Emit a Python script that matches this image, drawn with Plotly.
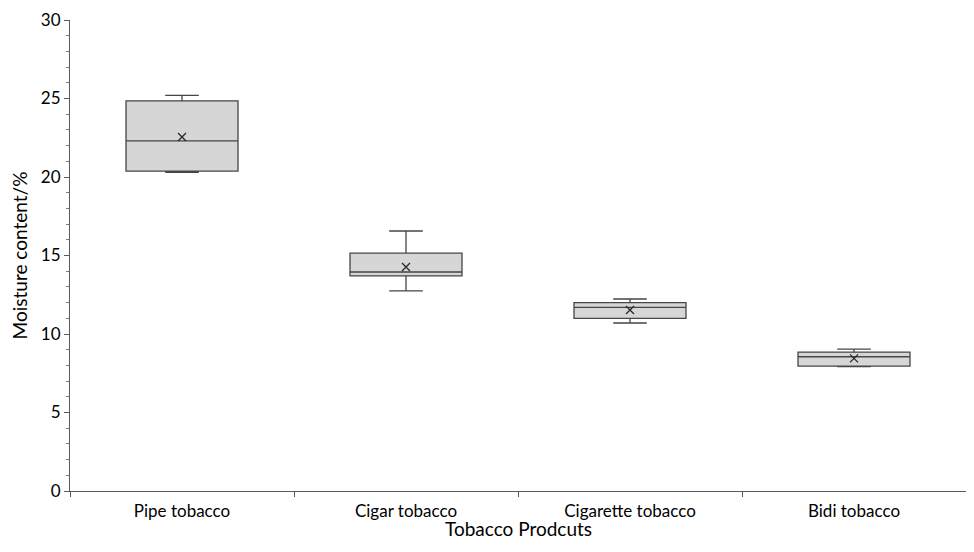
import plotly.graph_objects as go

categories = ["Pipe tobacco", "Cigar tobacco", "Cigarette tobacco", "Bidi tobacco"]
lower_whisker = [20.3, 12.75, 10.7, 7.92]
q1 = [20.38, 13.7, 11.0, 7.96]
median = [22.3, 13.95, 11.7, 8.55]
q3 = [24.85, 15.15, 12.0, 8.85]
upper_whisker = [25.2, 16.56, 12.23, 9.04]
mean = [22.55, 14.27, 11.53, 8.45]

font = "Lato, 'Open Sans', sans-serif"

fig = go.Figure()
fig.add_trace(go.Box(
    x=categories,
    q1=q1, median=median, q3=q3,
    lowerfence=lower_whisker, upperfence=upper_whisker,
    fillcolor="rgb(214,214,214)",
    line=dict(color="rgb(70,70,70)", width=1.3),
    whiskerwidth=0.3,
    width=0.5,
    boxpoints=False,
    hoverinfo="skip",
    showlegend=False,
))
fig.add_trace(go.Scatter(
    x=categories, y=mean, mode="markers",
    marker=dict(symbol="x-thin-open", size=8, color="rgb(40,40,40)",
                line=dict(color="rgb(40,40,40)", width=1.3)),
    showlegend=False, hoverinfo="skip",
))

fig.update_layout(
    width=958, height=536,
    margin=dict(l=62, r=0, t=12, b=53, autoexpand=False),
    plot_bgcolor="white", paper_bgcolor="white",
    font=dict(family=font, size=17, color="black"),
    annotations=[dict(
        text="Tobacco Prodcuts", xref="paper", yref="paper",
        x=0.5, y=-0.079, xanchor="center", yanchor="middle",
        showarrow=False, font=dict(size=19),
    )],
)
fig.update_xaxes(
    type="category", range=[-0.5, 3.5], automargin=False,
    showline=True, linecolor="rgb(90,90,90)", linewidth=1,
    ticks="outside", tickson="boundaries", ticklen=5, tickcolor="rgb(90,90,90)",
    ticklabelstandoff=5,
    showgrid=False, zeroline=False,
)
fig.update_yaxes(
    range=[0, 30], tickvals=[0, 5, 10, 15, 20, 25, 30], automargin=False,
    showline=True, linecolor="rgb(90,90,90)", linewidth=1,
    ticks="outside", ticklen=5, tickcolor="rgb(90,90,90)",
    minor=dict(dtick=1, ticks="outside", ticklen=3, tickcolor="rgb(120,120,120)"),
    showgrid=False, zeroline=False,
    title=dict(text="Moisture content/%", font=dict(size=19), standoff=11),
)

fig.write_html("out.html")
